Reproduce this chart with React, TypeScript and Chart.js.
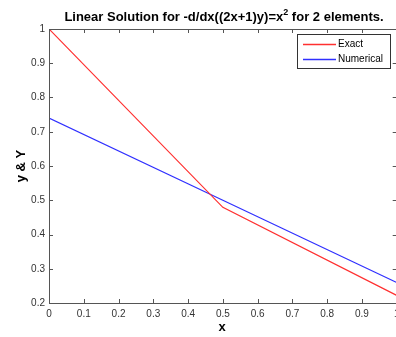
import React, { useEffect, useRef } from "react";
import { Chart, registerables } from "chart.js";

Chart.register(...registerables);

const nodesX = [0, 0.5, 1];
const exactY = [1, 0.4792, 0.2222];
const numericalY = [0.74, 0.5, 0.26];
const xTicks = [0, 0.1, 0.2, 0.3, 0.4, 0.5, 0.6, 0.7, 0.8, 0.9, 1];
const yTicks = [0.2, 0.3, 0.4, 0.5, 0.6, 0.7, 0.8, 0.9, 1];
const seriesLabels = ["Exact", "Numerical"];
const seriesColors = ["#ff3030", "#3030ff"];
const titleMain = "Linear Solution for -d/dx((2x+1)y)=x";
const titleSup = "2";
const titleRest = " for 2 elements.";

const FONT = "'Liberation Sans', Arial, Helvetica, sans-serif";

const decorPlugin = {
  id: "decor",
  afterDraw(chart: any) {
    const { ctx, chartArea } = chart;
    const { left, right, top, bottom } = chartArea;
    const xs = chart.scales.x;
    const ys = chart.scales.y;
    ctx.save();
    ctx.setLineDash([]);
    ctx.globalAlpha = 1;
    ctx.lineWidth = 1;
    // box
    ctx.strokeStyle = "#555";
    ctx.strokeRect(Math.round(left) + 0.5, Math.round(top) + 0.5, Math.round(right - left), Math.round(bottom - top));
    // inward ticks
    const tl = 4;
    ctx.beginPath();
    xTicks.forEach((v) => {
      const px = Math.round(xs.getPixelForValue(v)) + 0.5;
      ctx.moveTo(px, bottom);
      ctx.lineTo(px, bottom - tl);
      ctx.moveTo(px, top);
      ctx.lineTo(px, top + tl);
    });
    yTicks.forEach((v) => {
      const py = Math.round(ys.getPixelForValue(v)) + 0.5;
      ctx.moveTo(left, py);
      ctx.lineTo(left + tl, py);
      ctx.moveTo(right, py);
      ctx.lineTo(right - tl, py);
    });
    ctx.stroke();

    // title with superscript
    ctx.fillStyle = "#000";
    ctx.textBaseline = "alphabetic";
    ctx.textAlign = "left";
    const mainFont = `bold 13px ${FONT}`;
    const supFont = `bold 9px ${FONT}`;
    ctx.font = mainFont;
    const w1 = ctx.measureText(titleMain).width;
    const w3 = ctx.measureText(titleRest).width;
    ctx.font = supFont;
    const w2 = ctx.measureText(titleSup).width;
    const total = w1 + w2 + w3;
    let tx = 224 - total / 2;
    const base = 21;
    ctx.font = mainFont;
    ctx.fillText(titleMain, tx, base);
    tx += w1;
    ctx.font = supFont;
    ctx.fillText(titleSup, tx, base - 6);
    tx += w2;
    ctx.font = mainFont;
    ctx.fillText(titleRest, tx, base);

    // axis labels
    ctx.font = `bold 13px ${FONT}`;
    ctx.textAlign = "center";
    ctx.textBaseline = "middle";
    ctx.fillText("x", 222, 327);
    ctx.save();
    ctx.translate(21, 166);
    ctx.rotate(-Math.PI / 2);
    ctx.fillText("y & Y", 0, 0);
    ctx.restore();

    // legend
    const lx = 297, ly = 34, lw = 93, lh = 34;
    ctx.fillStyle = "#fff";
    ctx.fillRect(lx, ly, lw, lh);
    ctx.strokeStyle = "#333";
    ctx.strokeRect(lx + 0.5, ly + 0.5, lw, lh);
    ctx.font = `10px ${FONT}`;
    ctx.textAlign = "left";
    ctx.textBaseline = "middle";
    for (let i = 0; i < seriesLabels.length; i++) {
      const yy = ly + 10 + i * 15;
      ctx.strokeStyle = seriesColors[i];
      ctx.lineWidth = 1.3;
      ctx.beginPath();
      ctx.moveTo(303, yy + 0.5);
      ctx.lineTo(336, yy + 0.5);
      ctx.stroke();
      ctx.fillStyle = "#000";
      ctx.fillText(seriesLabels[i], 338, yy);
    }
    ctx.restore();
  },
};

export default function App() {
  const ref = useRef<HTMLCanvasElement>(null);
  useEffect(() => {
    const canvas = ref.current;
    if (!canvas) return;
    const chart = new Chart(canvas, {
      type: "scatter",
      data: {
        datasets: [
          {
            label: seriesLabels[0],
            data: nodesX.map((x, i) => ({ x, y: exactY[i] })),
            showLine: true,
            borderColor: seriesColors[0],
            backgroundColor: seriesColors[0],
            borderWidth: 1.2,
            pointRadius: 0,
          },
          {
            label: seriesLabels[1],
            data: nodesX.map((x, i) => ({ x, y: numericalY[i] })),
            showLine: true,
            borderColor: seriesColors[1],
            backgroundColor: seriesColors[1],
            borderWidth: 1.2,
            pointRadius: 0,
          },
        ],
      },
      options: {
        animation: false,
        responsive: false,
        maintainAspectRatio: false,
        layout: { padding: { left: 0, top: 29, right: 420 - 396.7, bottom: 0 } },
        plugins: { legend: { display: false }, title: { display: false }, tooltip: { enabled: false } },
        scales: {
          x: {
            type: "linear",
            min: 0,
            max: 1,
            afterFit: (s: any) => { s.height = 34; },
            afterBuildTicks: (s: any) => { s.ticks = xTicks.map((v) => ({ value: v })); },
            grid: { display: false, drawTicks: false },
            border: { display: false },
            ticks: {
              padding: 5,
              color: "#333",
              font: { family: FONT, size: 10 },
              maxRotation: 0,
              autoSkip: false,
              callback: (v: any) => String(Math.round(Number(v) * 10) / 10),
            },
          },
          y: {
            type: "linear",
            min: 0.2,
            max: 1,
            afterFit: (s: any) => { s.width = 49; },
            afterBuildTicks: (s: any) => { s.ticks = yTicks.map((v) => ({ value: v })); },
            grid: { display: false, drawTicks: false },
            border: { display: false },
            ticks: {
              padding: 4,
              color: "#333",
              font: { family: FONT, size: 10 },
              autoSkip: false,
              callback: (v: any) => String(Math.round(Number(v) * 10) / 10),
            },
          },
        },
      },
      plugins: [decorPlugin],
    });
    return () => chart.destroy();
  }, []);
  return (
    <div style={{ position: "fixed", left: 0, top: 0, width: 396, height: 337, overflow: "hidden", background: "#fff" }}>
      <canvas ref={ref} width={420} height={337} style={{ display: "block", width: 420, height: 337 }} />
    </div>
  );
}
